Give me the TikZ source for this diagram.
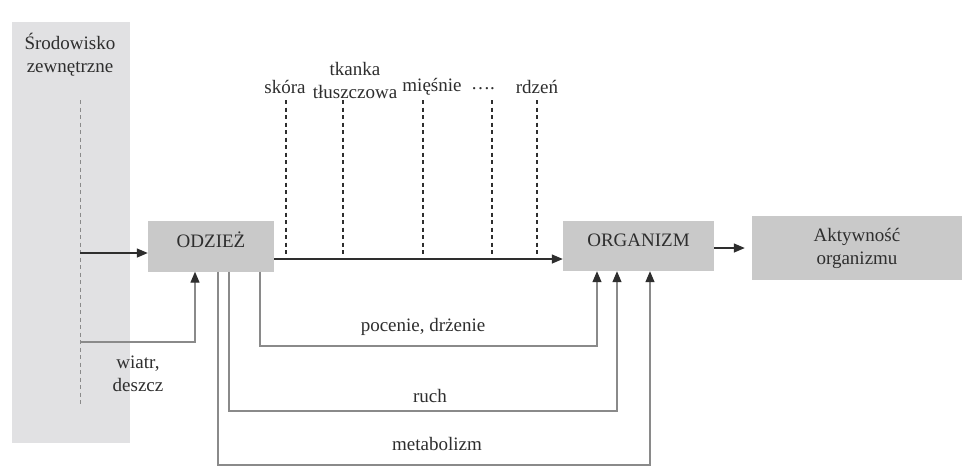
\documentclass[tikz,border=0pt]{standalone}
\usepackage{fontspec}
\setmainfont{Liberation Serif}
\usetikzlibrary{arrows.meta}
\definecolor{envgray}{HTML}{E1E1E3}
\definecolor{boxgray}{HTML}{C9C9C9}
\definecolor{ink}{HTML}{2E2E2E}
\definecolor{lineg}{HTML}{8A8A8A}
\begin{document}
\begin{tikzpicture}[x=1pt,y=-1pt,
  txt/.style={font=\fontsize{19}{23}\selectfont, text=ink, inner sep=0pt, align=center},
  block/.style={fill=boxgray, draw=none, inner sep=0pt, txt},
  mainarrow/.style={draw=ink, line width=1.4pt, -{Triangle[length=11pt,width=9pt]}},
  feed/.style={draw=lineg, line width=1.2pt, -{Triangle[length=11pt,width=9pt,color=ink]}},
  layer/.style={draw=ink, line width=1.2pt, dash pattern=on 4pt off 3.5pt},
  envline/.style={draw=lineg, line width=0.9pt, dash pattern=on 4pt off 3.5pt}]
\useasboundingbox[fill=white] (0,0) rectangle (962,475);

% environment panel
\node[fill=envgray, minimum width=118pt, minimum height=421pt, inner sep=0pt, anchor=north west] (env) at (12,22) {};
\node[txt] (envt) at (70,55) {Środowisko\\zewnętrzne};
\coordinate (et) at (80,100);
\coordinate (eb) at (80,405);
\draw[envline] (et) -- (eb);

% blocks
\node[block, minimum width=126pt, minimum height=51pt, text depth=12pt] (odziez) at (211,246) {ODZIEŻ};
\node[block, minimum width=151pt, minimum height=50pt, text depth=12pt] (organizm) at (638.5,246) {ORGANIZM};
\node[block, minimum width=210pt, minimum height=64pt] (akt) at (857,248) {Aktywność\\organizmu};

% environment arrows
\coordinate (e1) at (80,253);
\draw[mainarrow] (e1) -- (e1 -| odziez.west);
\coordinate (w) at (80,342);
\draw[feed] (w) -| ([xshift=-16pt]odziez.south);
\node[txt] (wind) at (138,374) {wiatr,\\deszcz};

% main arrows
\draw[mainarrow] ([yshift=-13pt]odziez.east) -- ([yshift=-13pt]organizm.west);
\draw[mainarrow, shorten >=7pt] ([yshift=-2pt]organizm.east) -- (akt.west);

% layers
\node[txt] (l1) at (285,87) {skóra};
\node[txt] (l2) at (355,80) {tkanka\\tłuszczowa};
\node[txt] (l3) at (432,87) {mięśnie};
\node[txt] (l4) at (483,89) {….};
\node[txt] (l5) at (537,87) {rdzeń};
\foreach \i/\x in {1/286,2/343,3/423,4/492,5/537}{
  \coordinate (t\i) at (\x,100);
  \coordinate (b\i) at (\x,257);
  \draw[layer] (t\i) -- (b\i);
}

% feedback loops
\coordinate (p1) at (420,346);
\coordinate (r1) at (420,411);
\coordinate (m1) at (430,465);
\draw[feed] ([xshift=49pt]odziez.south) |- (p1) -| ([xshift=-41.5pt]organizm.south);
\draw[feed] ([xshift=18pt]odziez.south) |- (r1) -| ([xshift=-21.5pt]organizm.south);
\draw[feed] ([xshift=7pt]odziez.south) |- (m1) -| ([xshift=11.5pt]organizm.south);
\node[txt] (lp) at (423,327) {pocenie, drżenie};
\node[txt] (lr) at (430,396) {ruch};
\node[txt] (lm) at (437,444) {metabolizm};
\end{tikzpicture}
\end{document}
